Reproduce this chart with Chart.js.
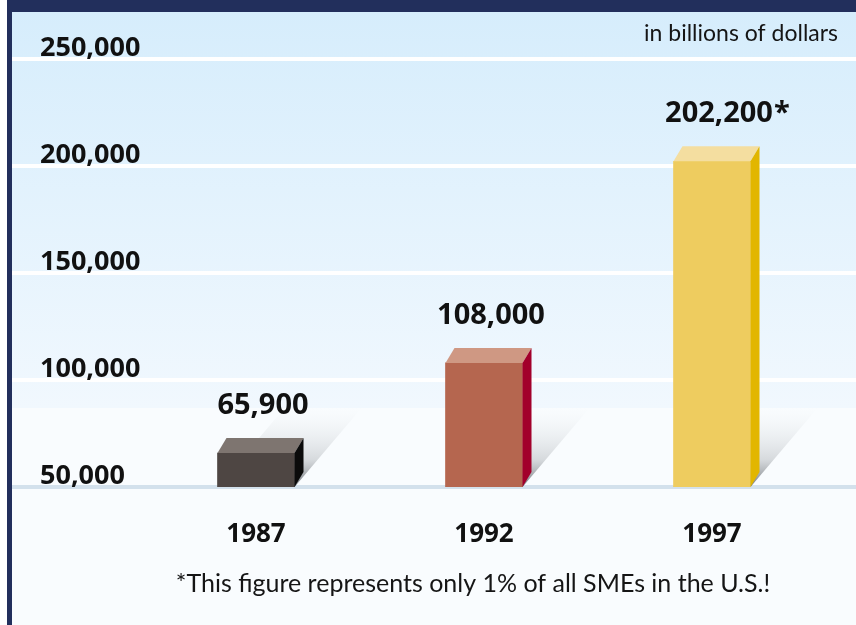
<!DOCTYPE html>
<html>
<head>
<meta charset="utf-8">
<title>SME revenue 1987-1997</title>
<script src="https://cdn.jsdelivr.net/npm/chart.js@4.4.1/dist/chart.umd.min.js"></script>
<style>
  html, body { margin: 0; padding: 0; background: #fff; }
  #box { position: relative; width: 856px; height: 625px; }
</style>
</head>
<body>
<div id="box"><canvas id="myChart"></canvas></div>
<script>
// revenue per year, in billions of dollars
const years = ['1987', '1992', '1997'];
const revenue = [65900, 108000, 202200];
const notes = ['', '', '*'];
const yTicks = [50000, 100000, 150000, 200000, 250000];

// colours for the three faces of each block
const frontColors = ['#4e4643', '#b5664f', '#eecc5f'];
const topColors = ['#7e7570', '#cf9883', '#f4dea0'];
const sideColors = ['#0b0b0b', '#a2002b', '#e2b600'];

const DEPTH_X = 9;
const DEPTH_Y = 15;
const SHADOW_RISE = 79;
const SHADOW_RUN = 67;
const BOLD = '"Open Sans"';

const fmt = v => v.toLocaleString('en-US');

const scenery = {
    id: 'scenery',
    beforeDraw(chart) {
        const { ctx, width, height, chartArea } = chart;
        const horizon = chartArea.bottom - SHADOW_RISE;
        ctx.save();
        const bg = ctx.createLinearGradient(0, 12, 0, horizon);
        bg.addColorStop(0, '#d6edfc');
        bg.addColorStop(1, '#f1f8fe');
        ctx.fillStyle = bg;
        ctx.fillRect(0, 0, width, horizon);
        ctx.fillStyle = '#f9fcfe';
        ctx.fillRect(0, horizon, width, height - horizon);

        // frame: navy strip on top and on the left
        ctx.fillStyle = '#ffffff';
        ctx.fillRect(0, 0, 7, height);
        ctx.fillStyle = '#222f5c';
        ctx.fillRect(7, 0, width - 7, 12);
        ctx.fillRect(7, 0, 5, height);

        // grid lines run the full width of the panel
        const y = chart.scales.y;
        y.ticks.forEach(t => {
            const py = Math.round(y.getPixelForValue(t.value));
            ctx.fillStyle = t.value === y.min ? '#d3e1ec' : '#ffffff';
            ctx.fillRect(12, py - 2, width - 12, 4);
        });
        ctx.restore();
    },
    beforeDatasetsDraw(chart) {
        const { ctx } = chart;
        const base = chart.scales.y.getPixelForValue(chart.scales.y.min);
        ctx.save();
        chart.getDatasetMeta(0).data.forEach(bar => {
            const l = bar.x - bar.width / 2;
            const r = bar.x + bar.width / 2;
            const g = ctx.createLinearGradient(0, base, 0, base - SHADOW_RISE);
            g.addColorStop(0, 'rgba(80,85,90,0.8)');
            g.addColorStop(0.35, 'rgba(150,155,160,0.35)');
            g.addColorStop(1, 'rgba(220,225,230,0)');
            ctx.fillStyle = g;
            ctx.beginPath();
            ctx.moveTo(l, base);
            ctx.lineTo(r, base);
            ctx.lineTo(r + SHADOW_RUN, base - SHADOW_RISE);
            ctx.lineTo(l + SHADOW_RUN, base - SHADOW_RISE);
            ctx.closePath();
            ctx.fill();
        });
        ctx.restore();
    },
    afterDatasetsDraw(chart) {
        const { ctx } = chart;
        const base = chart.scales.y.getPixelForValue(chart.scales.y.min);
        ctx.save();
        chart.getDatasetMeta(0).data.forEach((bar, i) => {
            const l = bar.x - bar.width / 2;
            const r = bar.x + bar.width / 2;
            const top = bar.y;

            // top face
            ctx.fillStyle = topColors[i];
            ctx.beginPath();
            ctx.moveTo(l, top);
            ctx.lineTo(l + DEPTH_X, top - DEPTH_Y);
            ctx.lineTo(r + DEPTH_X, top - DEPTH_Y);
            ctx.lineTo(r, top);
            ctx.closePath();
            ctx.fill();

            // side face
            ctx.fillStyle = sideColors[i];
            ctx.beginPath();
            ctx.moveTo(r, top);
            ctx.lineTo(r + DEPTH_X, top - DEPTH_Y);
            ctx.lineTo(r + DEPTH_X, base - DEPTH_Y);
            ctx.lineTo(r, base);
            ctx.closePath();
            ctx.fill();

            // value label
            ctx.fillStyle = '#111111';
            ctx.font = 'bold 29px ' + BOLD;
            ctx.textBaseline = 'alphabetic';
            ctx.textAlign = 'center';
            const cx = bar.x + 7;
            const ly = top - 39;
            const txt = fmt(revenue[i]);
            ctx.fillText(txt, cx, ly);
            if (notes[i]) {
                ctx.textAlign = 'left';
                ctx.fillText(notes[i], cx + ctx.measureText(txt).width / 2 + 1, ly);
            }
        });

        // unit note and footnote
        ctx.fillStyle = '#151515';
        ctx.textBaseline = 'middle';
        ctx.font = '23px Lato';
        ctx.textAlign = 'right';
        ctx.fillText('in billions of dollars', chart.width - 18, 34);
        ctx.font = '25px Lato';
        ctx.textAlign = 'center';
        ctx.fillText('*This figure represents only 1% of all SMEs in the U.S.!', 473, 584);
        ctx.restore();
    }
};

const ctx = document.getElementById('myChart').getContext('2d');
const myChart = new Chart(ctx, {
    type: 'bar',
    data: {
        labels: years,
        datasets: [{
            data: revenue,
            backgroundColor: frontColors,
            borderWidth: 0,
            barThickness: 77
        }]
    },
    options: {
        responsive: true,
        maintainAspectRatio: false,
        animation: false,
        layout: { padding: { top: 59, left: 40, right: 30, bottom: 78 } },
        plugins: {
            legend: { display: false },
            tooltip: { enabled: false }
        },
        scales: {
            x: {
                afterFit: s => { s.height = 60; },
                grid: { display: false },
                border: { display: false },
                ticks: {
                    color: '#111111',
                    font: { family: BOLD, weight: 'bold', size: 26 },
                    padding: 24
                }
            },
            y: {
                min: 50000,
                max: 250000,
                afterBuildTicks: s => { s.ticks = yTicks.map(v => ({ value: v })); },
                afterFit: s => { s.width = 102; },
                grid: { display: false },
                border: { display: false },
                ticks: {
                    crossAlign: 'far',
                    labelOffset: -11,
                    color: '#111111',
                    font: { family: BOLD, weight: 'bold', size: 27 },
                    callback: v => fmt(v)
                }
            }
        }
    },
    plugins: [scenery]
});
</script>
</body>
</html>
